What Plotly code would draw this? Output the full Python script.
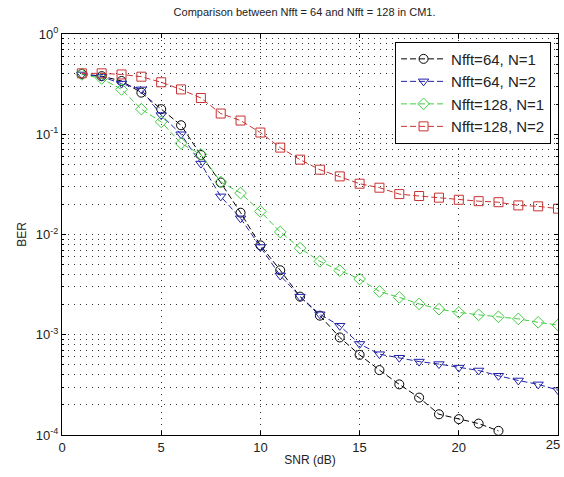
import plotly.graph_objects as go

snr = list(range(1, 26))
snr_black = list(range(1, 23))

ber_64_n1 = [0.40, 0.38, 0.34, 0.26, 0.178, 0.123, 0.062, 0.033, 0.0165, 0.0078, 0.0044,
             0.0024, 0.00155, 0.00094, 0.00063, 0.000444, 0.00032, 0.000236, 0.000161,
             0.000144, 0.00013, 0.00011]
ber_64_n2 = [0.395, 0.375, 0.32, 0.28, 0.155, 0.10, 0.051, 0.024, 0.0145, 0.0075, 0.0039,
             0.0024, 0.0016, 0.00123, 0.00081, 0.00064, 0.00059, 0.00054, 0.00051, 0.00047,
             0.00044, 0.00039, 0.00035, 0.00032, 0.00028]
ber_128_n1 = [0.395, 0.36, 0.28, 0.178, 0.133, 0.081, 0.063, 0.0334, 0.0259, 0.017, 0.0106,
              0.0073, 0.0054, 0.00436, 0.0036, 0.0027, 0.00236, 0.00203, 0.0018, 0.00167,
              0.00158, 0.00151, 0.00144, 0.00133, 0.00125]
ber_128_n2 = [0.405, 0.405, 0.395, 0.375, 0.33, 0.28, 0.23, 0.161, 0.137, 0.104, 0.0736,
              0.0558, 0.0443, 0.038, 0.0321, 0.0293, 0.0253, 0.0242, 0.0233, 0.0222, 0.0215,
              0.021, 0.0195, 0.0191, 0.0181]

names = ["Nfft=64, N=1", "Nfft=64, N=2", "Nfft=128, N=1", "Nfft=128, N=2"]
xs = [snr_black, snr, snr, snr]
ys = [ber_64_n1, ber_64_n2, ber_128_n1, ber_128_n2]
colors = ["#000000", "#2222aa", "#44cc44", "#c83232"]
symbols = ["circle-open", "triangle-down-open", "diamond-open", "square-open"]

xticks = [0, 5, 10, 15, 20, 25]
xticktext = ["0", "5", "10", "15", "20", ""]
last_tick = [25]
last_text = ["25"]
yvals = [1, 0.1, 0.01, 0.001, 0.0001]
ytext = ["10<sup>0</sup>", "10<sup>-1</sup>", "10<sup>-2</sup>", "10<sup>-3</sup>", "10<sup>-4</sup>"]

font = "Liberation Sans, Arial, sans-serif"
fig = go.Figure()
for x, y, n, c, s in zip(xs, ys, names, colors, symbols):
    fig.add_trace(go.Scatter(
        x=x, y=y, name=n, mode="lines+markers",
        line=dict(color=c, width=1, dash="6px,3px"),
        marker=dict(symbol=s, size=9, color=c, line=dict(width=1, color=c)),
    ))
# helper trace so the overlay axis carrying the last x label is drawn
fig.add_trace(go.Scatter(x=[None], y=[None], xaxis="x2", showlegend=False,
                         hoverinfo="skip", mode="lines"))

grid_dash = "1px,5px"
grid_col = "#333"

fig.update_layout(
    width=564, height=477,
    margin=dict(l=62, r=6, t=34, b=42, autoexpand=False),
    paper_bgcolor="white", plot_bgcolor="white",
    font=dict(family=font, size=12, color="#222"),
    title=dict(text="Comparison between Nfft = 64 and Nfft = 128 in CM1.",
               x=0.54, xanchor="center", y=0.975, yanchor="middle",
               font=dict(size=11, family=font, color="#222")),
    legend=dict(x=0.986, y=0.981, xanchor="right", yanchor="top",
                bgcolor="white", bordercolor="black", borderwidth=1,
                font=dict(size=15, family=font), tracegroupgap=0,
                itemwidth=45),
    showlegend=True,
    xaxis2=dict(overlaying="x", side="bottom", range=[0, 25],
                tickvals=last_tick, ticktext=last_text, ticklabelshift=-5,
                showgrid=False, showline=False, zeroline=False, ticks="",
                automargin=False, tickfont=dict(size=13, family=font)),
)
fig.update_xaxes(selector=dict(anchor="y"))
fig.layout.xaxis.update(
    range=[0, 25], tickvals=xticks, ticktext=xticktext,
    automargin=False,
    showline=True, linecolor="black", linewidth=1, mirror="ticks",
    ticks="inside", ticklen=4, tickcolor="black",
    showgrid=True, gridcolor=grid_col, griddash=grid_dash, gridwidth=1,
    zeroline=False, tickfont=dict(size=13),
    title=dict(text="SNR (dB)", standoff=2, font=dict(size=12)),
)
fig.update_yaxes(
    type="log", range=[-4, 0], tickvals=yvals, ticktext=ytext,
    automargin=False,
    showline=True, linecolor="black", linewidth=1, mirror="ticks",
    ticks="inside", ticklen=4, tickcolor="black",
    showgrid=True, gridcolor=grid_col, griddash=grid_dash, gridwidth=1,
    tickfont=dict(size=13),
    minor=dict(dtick="D1", showgrid=True, gridcolor=grid_col, griddash=grid_dash,
               gridwidth=1, ticks="inside", ticklen=2, tickcolor="black"),
    title=dict(text="BER", standoff=6, font=dict(size=12)),
)

fig.write_html("out.html")
